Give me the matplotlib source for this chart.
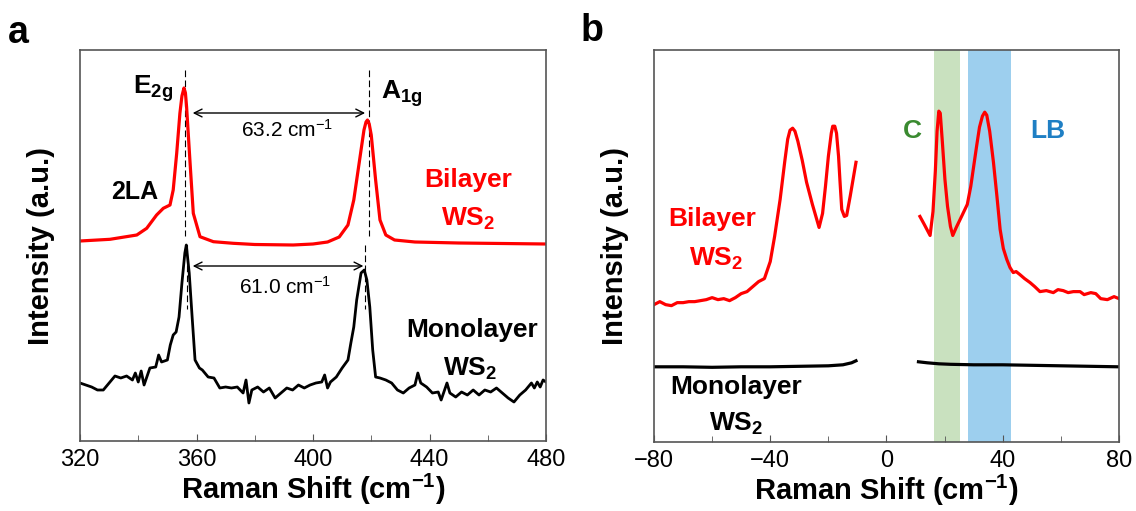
import numpy as np
import matplotlib
matplotlib.use('Agg')
import matplotlib.pyplot as plt

plt.rcParams['font.family'] = ['Liberation Sans', 'DejaVu Sans']
plt.rcParams['mathtext.fontset'] = 'custom'
plt.rcParams['mathtext.rm'] = 'Liberation Sans'
plt.rcParams['mathtext.bf'] = 'Liberation Sans:bold'
plt.rcParams['mathtext.it'] = 'Liberation Sans:italic'

# ---- panel a: high-frequency Raman modes ----
bi_a_x = [320, 330.3, 339.5, 342.9, 346.3, 348.6, 350.9, 352.0, 353.2, 354.3, 355.0, 355.7,
          356.2, 356.6, 357.8, 358.9, 361.2, 365.8, 372.6, 380, 393.2, 400, 405, 409, 412,
          414, 416, 417.5, 418.2, 418.7, 419.3, 420, 421.5, 423, 425, 428, 435, 450, 465, 480]
bi_a_y = [200, 201.7, 206, 212.7, 226, 232.7, 236, 251, 287.7, 327.7, 345, 353,
          348, 334, 277.7, 227.7, 204.3, 199.3, 197.7, 196.5, 196, 197, 199, 204, 216,
          241, 281, 311, 319, 321, 317, 306, 261, 221, 206, 201, 199, 198, 197.5, 197]

mono_a_x = [320, 324, 326, 328, 330, 332, 334, 336, 338, 339, 340, 341, 342, 344, 346,
            347, 348, 350, 351, 352, 353, 354, 355, 356, 356.5, 357.5, 358.5, 359.5,
            361, 362, 364, 366, 368, 370, 372, 374, 376, 377, 378, 379, 381, 383, 385,
            387, 389, 391, 393, 395, 397, 399, 401, 403, 404, 405, 406, 408, 410, 412,
            413, 414, 415, 416.5, 417.6, 418.5, 419.5, 420.5, 421.5, 423, 425, 427,
            429, 431, 433, 435, 436, 437, 439, 441, 443, 444, 446, 447, 449, 451, 453,
            455, 457, 459, 461, 463, 465, 467, 469, 471, 473, 475, 476, 477, 478, 479, 480]
mono_a_y = [58, 54, 51, 51, 58, 65, 63, 65, 61, 68, 59, 70, 56, 73, 74,
            86, 79, 81, 96, 106, 109, 124, 158, 188, 196, 168, 124, 81,
            73, 71, 64, 63, 53, 54, 53, 54, 48, 61, 38, 51, 54, 49, 53,
            43, 48, 53, 51, 56, 53, 56, 58, 59, 66, 53, 59, 64, 73, 81,
            98, 114, 141, 168, 171, 161, 134, 91, 64, 63, 61, 58,
            51, 48, 53, 56, 68, 58, 54, 48, 49, 41, 58, 48, 44, 49, 46,
            51, 46, 51, 49, 53, 48, 43, 39, 46, 51, 58, 53, 59, 54, 61, 59]

# ---- panel b: low-frequency modes (Stokes / anti-Stokes, centre cut out) ----
bi_b_left_x = [-80, -78, -76, -74, -72, -70, -68, -66, -64, -62, -60, -58, -56, -54,
               -52, -50, -48, -46, -44, -42, -40, -38.5, -36.6, -35, -34, -33.2, -32.3,
               -31.5, -30.5, -29, -27.5, -25.5, -23.2, -22, -21, -20, -19, -18.5, -17.8,
               -17.2, -16.5, -16, -15.4, -14.5, -13.7, -12.5, -11.5, -10.5]
bi_b_left_y = [137, 140, 137, 136, 139, 139, 140, 140, 141, 142, 144, 142, 143, 141,
               144, 148, 150, 155, 160, 163, 180, 205, 242, 280, 302, 311, 313,
               310, 300, 281, 259, 237, 214, 228, 255, 285, 308, 315, 315,
               308, 285, 260, 232, 225, 226, 245, 262, 279]
bi_b_right_x = [11.5, 13, 15, 16, 16.8, 17.4, 18.0, 18.5, 19.2, 20.1, 21, 22, 22.8, 24,
                26, 27.8, 29, 30, 31, 32, 33, 33.8, 34.5, 35.5, 36.8, 38, 39.1, 40.2,
                41.4, 42.5, 43.6, 44.6, 45.9, 47.5, 49.4, 51, 52.8, 55, 57.4, 59, 60.8,
                62.5, 64.3, 66.6, 68, 70.3, 72, 73.7, 76, 78.3, 80]
bi_b_right_y = [225, 217, 206, 230, 270, 310, 330, 328, 300, 262, 235, 215, 206, 214,
                226, 237, 255, 275, 295, 314, 325, 329, 326, 310, 279, 245, 212, 193,
                182, 174, 169, 170, 167, 163, 159, 155, 150, 151, 149, 152, 151,
                149, 150, 150, 147, 149, 148, 143, 142, 145, 143]
mono_b_left_x = [-80, -70, -60, -50, -40, -30, -20, -15, -12, -10.5]
mono_b_left_y = [75, 75, 74.5, 75, 75, 75.5, 76, 77, 79, 81]
mono_b_right_x = [11, 14, 18, 22, 30, 40, 50, 60, 70, 80]
mono_b_right_y = [80, 79, 78, 77.5, 77, 77, 76.5, 76, 75.5, 75]

c_band = (16.3, 25.3)
lb_band = (28.2, 43.0)

E2g_pos = (356.2, 356.8)
A1g_pos = (419.1, 417.9)

fig = plt.figure(figsize=(11.36, 5.11), dpi=100)
ax_a = fig.add_axes([80 / 1136, 70 / 511, 466 / 1136, 391 / 511])
ax_b = fig.add_axes([654 / 1136, 69 / 511, 465 / 1136, 392 / 511])

for ax in (ax_a, ax_b):
    for s in ax.spines.values():
        s.set_color('#555555')
        s.set_linewidth(1.2)
    ax.set_yticks([])
    ax.tick_params(axis='x', which='both', direction='in', labelsize=17, pad=6,
                   color='#555555')
    ax.tick_params(axis='x', which='major', length=5)
    ax.tick_params(axis='x', which='minor', length=4)
    ax.set_ylim(0, 391)
    ax.set_ylabel('Intensity (a.u.)', fontsize=21, fontweight='bold', labelpad=18)
    ax.set_xlabel(r'Raman Shift (cm$^{\mathbf{-1}}$)', fontsize=21, fontweight='bold',
                  labelpad=0)

# panel a
ax_a.plot(bi_a_x, bi_a_y, color='red', lw=2.3)
ax_a.plot(mono_a_x, mono_a_y, color='black', lw=2.0)
ax_a.set_xlim(320, 480)
ax_a.set_xticks([320, 360, 400, 440, 480])
ax_a.set_xticks([340, 380, 420, 460], minor=True)

for top_x, low_x in (E2g_pos, A1g_pos):
    ax_a.plot([top_x, top_x], [371, 205], color='black', lw=0.8, ls=(0, (6, 3)), zorder=1)
    ax_a.plot([low_x, low_x], [196, 132], color='black', lw=0.8, ls=(0, (6, 3)), zorder=1)

ax_a.annotate('', xy=(417.9, 328), xytext=(358.7, 328),
              arrowprops=dict(arrowstyle='<->', color='black', lw=1, shrinkA=0,
                              shrinkB=0, mutation_scale=14))
ax_a.annotate('', xy=(417.3, 175), xytext=(358.7, 175),
              arrowprops=dict(arrowstyle='<->', color='black', lw=1, shrinkA=0,
                              shrinkB=0, mutation_scale=14))
ax_a.text(391, 311, r'63.2 cm$^{-1}$', fontsize=15, ha='center', va='center')
ax_a.text(390.5, 154, r'61.0 cm$^{-1}$', fontsize=15, ha='center', va='center')

ax_a.text(345, 352, r'$\mathbf{E_{2g}}$', fontsize=19, ha='center', va='center')
ax_a.text(430.4, 347, r'$\mathbf{A_{1g}}$', fontsize=19, ha='center', va='center')
ax_a.text(338.7, 249, '2LA', fontsize=18, fontweight='bold', ha='center', va='center')
ax_a.text(453.4, 261, 'Bilayer', fontsize=19, fontweight='bold', color='red',
          ha='center', va='center')
ax_a.text(453.4, 222, r'$\mathbf{WS_2}$', fontsize=19, color='red', ha='center', va='center')
ax_a.text(454.7, 111, 'Monolayer', fontsize=19, fontweight='bold', ha='center', va='center')
ax_a.text(454.0, 72, r'$\mathbf{WS_2}$', fontsize=19, ha='center', va='center')

# panel b
ax_b.axvspan(*c_band, color='#c9e1bf', lw=0, zorder=0)
ax_b.axvspan(*lb_band, color='#9dcfee', lw=0, zorder=0)
ax_b.plot(bi_b_left_x, bi_b_left_y, color='red', lw=2.3)
ax_b.plot(bi_b_right_x, bi_b_right_y, color='red', lw=2.3)
ax_b.plot(mono_b_left_x, mono_b_left_y, color='black', lw=2.3)
ax_b.plot(mono_b_right_x, mono_b_right_y, color='black', lw=2.3)
ax_b.set_xlim(-80, 80)
ax_b.set_xticks([-80, -40, 0, 40, 80])
ax_b.set_xticks([-60, -20, 20, 60], minor=True)

ax_b.text(8.9, 310, 'C', fontsize=19, fontweight='bold', color='#3a8a30',
          ha='center', va='center')
ax_b.text(55.4, 310, 'LB', fontsize=19, fontweight='bold', color='#1f7fc4',
          ha='center', va='center')
ax_b.text(-59.9, 222, 'Bilayer', fontsize=19, fontweight='bold', color='red',
          ha='center', va='center')
ax_b.text(-58.7, 183, r'$\mathbf{WS_2}$', fontsize=19, color='red', ha='center', va='center')
ax_b.text(-51.8, 55, 'Monolayer', fontsize=19, fontweight='bold', ha='center', va='center')
ax_b.text(-51.8, 18, r'$\mathbf{WS_2}$', fontsize=19, ha='center', va='center')

fig.text(18 / 1136, 1 - 33 / 511, 'a', fontsize=27, fontweight='bold',
         ha='center', va='center')
fig.text(592 / 1136, 1 - 31 / 511, 'b', fontsize=27, fontweight='bold',
         ha='center', va='center')

fig.savefig('out.png', dpi=100)
